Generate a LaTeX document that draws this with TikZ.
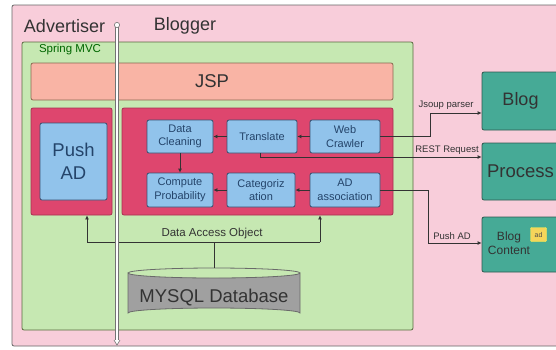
\documentclass[tikz,border=0pt]{standalone}
\usepackage{fontspec}
\setmainfont{Liberation Sans}
\usetikzlibrary{arrows.meta,calc}
\definecolor{pinkbg}{HTML}{F8CDDA}
\definecolor{greenbg}{HTML}{C6E8B2}
\definecolor{greenbd}{HTML}{5A6A40}
\definecolor{salmon}{HTML}{F9B4A5}
\definecolor{salmonbd}{HTML}{8A6A50}
\definecolor{crimson}{HTML}{DE466E}
\definecolor{crimsonbd}{HTML}{A83050}
\definecolor{bluebox}{HTML}{91C3EB}
\definecolor{bluebd}{HTML}{3A5070}
\definecolor{teal}{HTML}{46AA96}
\definecolor{tealbd}{HTML}{2E5A50}
\definecolor{dbgray}{HTML}{A0A0A0}
\definecolor{dbbd}{HTML}{6A6A6A}
\definecolor{txt}{HTML}{333333}
\definecolor{bluetxt}{HTML}{24446A}
\definecolor{tagyellow}{HTML}{F5D55A}
\tikzset{
  panel/.style={rounded corners=2pt, line width=0.8pt},
  bluebox/.style={panel, draw=bluebd, fill=bluebox, text=bluetxt, inner sep=0pt,
     align=center, font=\fontsize{11}{13.5}\selectfont},
  tealbox/.style={panel, draw=tealbd, fill=teal, text=black!80, inner sep=0pt, align=center},
  conn/.style={draw=txt, line width=0.8pt},
  arr/.style={conn, -{Latex[length=4pt,width=4pt]}},
  lbl/.style={text=txt, inner sep=0pt, font=\fontsize{9.5}{11}\selectfont},
}
\begin{document}
\begin{tikzpicture}[x=1pt,y=-1pt]
\useasboundingbox (0,0) rectangle (556,349);
\fill[white] (0,0) rectangle (556,349);
% outer pink
\node[panel, draw=gray!80!black, fill=pinkbg, minimum width=563, minimum height=341, inner sep=0pt] (outer) at (293.5,175.5) {};
% green Spring MVC
\node[panel, draw=greenbd, fill=greenbg, minimum width=391, minimum height=288, inner sep=0pt] (mvc) at (217.5,186) {};
\node[text=green!40!black, inner sep=0pt, font=\fontsize{11.5}{13}\selectfont] (mvclbl) at (70,50) {Spring MVC};
% JSP
\node[panel, draw=salmonbd, fill=salmon, minimum width=362, minimum height=37, inner sep=0pt, text=txt, font=\fontsize{18.5}{20}\selectfont] (jsp) at (212,81.5) {JSP};
% crimson containers
\node[panel, draw=crimsonbd, fill=crimson, minimum width=81, minimum height=107, inner sep=0pt] (cl) at (71.5,161.5) {};
\node[panel, draw=crimsonbd, fill=crimson, minimum width=271, minimum height=107, inner sep=0pt] (cr) at (257.5,161.5) {};
% Push AD
\node[bluebox, minimum width=67, minimum height=77, font=\fontsize{18.5}{23}\selectfont] (push) at (73.5,161.5) {Push\\AD};
% inner boxes
\node[bluebox, minimum width=66, minimum height=33] (dc) at (180,136.5) {Data\\Cleaning};
\node[bluebox, minimum width=70, minimum height=33] (tr) at (262,136.5) {Translate};
\node[bluebox, minimum width=70, minimum height=33] (wc) at (345,136.5) {Web\\Crawler};
\node[bluebox, minimum width=66, minimum height=34] (cp) at (180,190) {Compute\\Probability};
\node[bluebox, minimum width=68, minimum height=34] (cat) at (261,190) {Categoriz\\ation};
\node[bluebox, minimum width=70, minimum height=34] (ad) at (345,190) {AD\\association};
% right boxes
\node[tealbox, minimum width=77, minimum height=58, font=\fontsize{18}{20}\selectfont] (blog) at (520.5,101) {Blog};
\node[tealbox, minimum width=77, minimum height=57, font=\fontsize{18.5}{20}\selectfont] (proc) at (520.5,171.5) {Process};
\node[tealbox, minimum width=77, minimum height=55] (bc) at (520.5,244.5) {};
\node[text=black!80, inner sep=0pt, align=center, font=\fontsize{12}{14.5}\selectfont] (bctxt) at (509,243) {Blog\\Content};
\node[fill=tagyellow, draw=yellow!70!white, rounded corners=1pt, minimum width=16, minimum height=14, inner sep=0pt, font=\fontsize{7}{8}\selectfont, text=black!70] (tag) at (538.5,234.5) {ad};
% database
\fill[dbgray, draw=dbbd, line width=0.8pt] (128,273) -- (128,313) arc[start angle=180, end angle=360, x radius=86, y radius=5] -- (300,273) arc[start angle=0, end angle=180, x radius=86, y radius=5] -- cycle;
\draw[dbbd, line width=0.8pt] (128,273) arc[start angle=180, end angle=360, x radius=86, y radius=5];
\node[inner sep=0pt, text=txt, font=\fontsize{18.5}{20}\selectfont] (db) at (214,298) {MYSQL Database};
\coordinate (dbtop) at (214,268);
% internal arrows
\draw[arr] (wc) -- (tr);
\draw[arr] (tr) -- (dc);
\draw[arr] (dc) -- (cp);
\draw[arr] (ad) -- (cat);
\draw[arr] (cat) -- (cp);
% external connectors
\coordinate (j1) at (430,113);
\coordinate (j2) at (482,157);
\coordinate (j3) at (428,243);
\draw[arr] (wc.east) -| (j1) -- (j1 -| blog.west);
\draw[arr] ([xshift=-2pt]tr.south) |- (j2 -| proc.west);
\draw[arr] (ad.east) -| (j3) -- (j3 -| bc.west);
\node[lbl, anchor=south] (jl) at (446,110) {Jsoup parser};
\node[lbl, anchor=south] (rl) at (447,155) {REST Request};
\node[lbl, anchor=south] (pl) at (452,240) {Push AD};
% DAO
\coordinate (d1) at (87,242);
\coordinate (d2) at (320,242);
\draw[conn] (d1) -- (d2);
\draw[arr] (d1) -- (d1 |- cl.south);
\draw[arr] (d2) -- (d2 |- cr.south);
\draw[conn] (dbtop) -- (dbtop |- d1);
\node[inner sep=0pt, text=txt, anchor=south, font=\fontsize{11.5}{13}\selectfont] (dao) at (212,239.5) {Data Access Object};
% lifeline
\coordinate (lt) at (117,25);
\coordinate (lb) at (117,342);
\draw[draw=gray!90!black, double=white, double distance=2.4pt, line width=0.6pt] (lt) -- (lb);
\draw[gray!90!black, fill=white, line width=0.6pt] (lt) circle[radius=2.6];
\draw[gray!90!black, line width=0.6pt, fill=white] ($(lb)+(-3,-2)$) -- ($(lb)+(0,3)$) -- ($(lb)+(3,-2)$);
% lane labels
\node[inner sep=0pt, text=txt, font=\fontsize{18}{20}\selectfont] (adv) at (64.5,26) {Advertiser};
\node[inner sep=0pt, text=txt, font=\fontsize{18}{20}\selectfont] (blg) at (185,26) {Blogger};
\end{tikzpicture}
\end{document}
